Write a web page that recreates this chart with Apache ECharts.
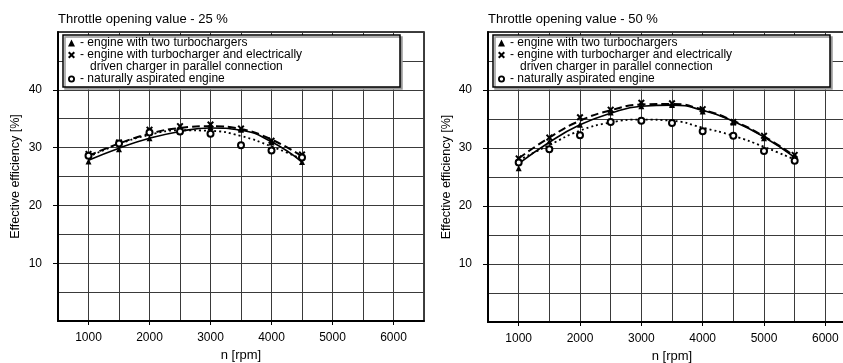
<!DOCTYPE html>
<html><head><meta charset="utf-8">
<script src="https://cdn.jsdelivr.net/npm/echarts@6/dist/echarts.min.js"></script>
<style>html,body{margin:0;padding:0;background:#fff}#c{width:843px;height:363px}</style>
</head><body><div id="c"></div>
<script>
// ---- data ----
const chartTitles = ['Throttle opening value - 25 %', 'Throttle opening value - 50 %'];
const seriesNames = ['engine with two turbochargers',
  'engine with turbocharger and electrically driven charger in parallel connection',
  'naturally aspirated engine'];
const legendLabels = ['- engine with two turbochargers',
  ' \n- engine with turbocharger and electrically\n   driven charger in parallel connection',
  ' \n- naturally aspirated engine\n '];
const xTickLabels = [1000, 2000, 3000, 4000, 5000, 6000];
const yTickLabels = [10, 20, 30, 40];
const xAxisName = 'n [rpm]';
const yAxisName = 'Effective efficiency [%]';

const rpm25 = [1000, 1500, 2000, 2500, 3000, 3500, 4000, 4500];
const twoTurbo25 = [27.6, 29.7, 31.6, 32.8, 33.5, 33.1, 30.9, 27.5];
const elecCharger25 = [28.9, 30.9, 33.1, 33.7, 34.0, 33.3, 31.2, 28.8];
const natAsp25 = [28.6, 30.7, 32.6, 32.8, 32.4, 30.4, 29.5, 28.3];
const twoTurbo25Fit = [27.8, 29.9, 31.6, 32.8, 33.4, 33.0, 31.0, 27.5];
const elecCharger25Fit = [28.6, 30.7, 32.4, 33.4, 33.7, 33.2, 31.4, 28.5];
const natAsp25Fit = [28.4, 30.6, 32.2, 33.0, 32.9, 32.0, 30.2, 28.0];

const rpm50 = [1000, 1500, 2000, 2500, 3000, 3500, 4000, 4500, 5000, 5500];
const twoTurbo50 = [26.5, 31.1, 34.0, 36.1, 37.2, 37.4, 36.3, 34.4, 31.7, 28.5];
const elecCharger50 = [28.2, 31.8, 35.3, 36.6, 37.8, 37.7, 36.7, 34.5, 32.1, 28.8];
const natAsp50 = [27.5, 29.8, 32.2, 34.5, 34.7, 34.3, 32.9, 32.1, 29.5, 27.8];
const twoTurbo50Fit = [27.3, 31.0, 34.0, 36.0, 37.2, 37.4, 36.5, 34.6, 31.9, 28.4];
const elecCharger50Fit = [28.2, 31.8, 34.7, 36.5, 37.5, 37.6, 36.6, 34.7, 32.0, 28.6];
const natAsp50Fit = [27.9, 30.5, 33.0, 34.4, 34.9, 34.7, 33.5, 32.1, 30.2, 28.0];

// ---- styles ----
const xPath = 'path://M0,2L2,0L5,3L8,0L10,2L7,5L10,8L8,10L5,7L2,10L0,8L3,5Z';
const ringPath = 'path://M0,5A5,5 0 1,0 10,5A5,5 0 1,0 0,5Z M2.6,5A2.4,2.4 0 1,1 7.4,5A2.4,2.4 0 1,1 2.6,5Z';
const markerDefs = [
  {symbol: 'triangle', size: 6},
  {symbol: xPath, size: 7},
  {symbol: 'emptyCircle', size: 6}
];
const lineTypes = [
  {type: 'solid', width: 1.6},
  {type: [8, 4], width: 2},
  {type: [2, 3], width: 1.8}
];
const grids = [
  {left: 58, top: 32, width: 366, height: 289, nameGapY: 36, legendLeft: 68, box: [63, 35, 337, 52]},
  {left: 488, top: 32, width: 368, height: 290, nameGapY: 35, legendLeft: 498, box: [493, 35, 337, 52]}
];
const datasets = [
  {rpm: rpm25, pts: [twoTurbo25, elecCharger25, natAsp25], fit: [twoTurbo25Fit, elecCharger25Fit, natAsp25Fit]},
  {rpm: rpm50, pts: [twoTurbo50, elecCharger50, natAsp50], fit: [twoTurbo50Fit, elecCharger50Fit, natAsp50Fit]}
];

const zip = (xs, ys) => xs.map((x, i) => [x, ys[i]]);
const FONT = 'Liberation Sans';

const option = {
  animation: false,
  backgroundColor: '#fff',
  textStyle: {fontFamily: FONT, color: '#000'},
  title: [], grid: [], xAxis: [], yAxis: [], legend: [], series: [], graphic: []
};

grids.forEach((g, i) => {
  option.title.push({
    text: chartTitles[i], left: g.left, top: 13, padding: 0,
    textStyle: {fontFamily: FONT, fontSize: 13, fontWeight: 'normal', color: '#000'}
  });
  option.grid.push({
    left: g.left, top: g.top, width: g.width, height: g.height,
    show: true, borderColor: '#000', borderWidth: 1.5, backgroundColor: 'transparent',
    outerBoundsMode: 'none', containLabel: false
  });
  // grid-line axes (series attached)
  option.xAxis.push({
    type: 'value', gridIndex: i, min: 500, max: 6500, interval: 500,
    axisLine: {show: false}, axisTick: {show: false}, axisLabel: {show: false},
    splitLine: {show: true, lineStyle: {color: '#3a3a3a', width: 1}}
  });
  option.yAxis.push({
    type: 'value', gridIndex: i, min: 0, max: 50, interval: 5,
    axisLine: {show: false}, axisTick: {show: false}, axisLabel: {show: false},
    splitLine: {show: true, lineStyle: {color: '#3a3a3a', width: 1}}
  });
  // label axes
  option.xAxis.push({
    type: 'value', gridIndex: i, min: 500, max: 6500, position: 'bottom',
    axisLine: {show: true, onZero: false, lineStyle: {color: '#000', width: 2}},
    axisTick: {show: true, customValues: xTickLabels, length: 4, lineStyle: {color: '#000', width: 1}},
    axisLabel: {customValues: xTickLabels, fontSize: 12, color: '#000', margin: 11, fontFamily: FONT,
      formatter: (v) => String(v)},
    splitLine: {show: false},
    name: xAxisName, nameLocation: 'middle', nameGap: 27,
    nameTextStyle: {fontSize: 13, color: '#000', fontFamily: FONT}
  });
  option.yAxis.push({
    type: 'value', gridIndex: i, min: 0, max: 50, position: 'left',
    axisLine: {show: true, onZero: false, lineStyle: {color: '#000', width: 2}},
    axisTick: {show: true, customValues: yTickLabels, length: 5, lineStyle: {color: '#000', width: 1}},
    axisLabel: {customValues: yTickLabels, fontSize: 12, color: '#000', margin: 16, fontFamily: FONT,
      formatter: (v) => String(v)},
    splitLine: {show: false},
    name: yAxisName, nameLocation: 'middle', nameGap: g.nameGapY,
    nameTextStyle: {fontSize: 12.5, color: '#000', fontFamily: FONT}
  });

  const d = datasets[i];
  seriesNames.forEach((name, k) => {
    option.series.push({
      type: 'line', name, xAxisIndex: 2 * i, yAxisIndex: 2 * i,
      data: zip(d.rpm, d.fit[k]), smooth: 0.5, symbol: 'none', silent: true, z: 3,
      lineStyle: {color: '#000', width: lineTypes[k].width, type: lineTypes[k].type, cap: 'butt'},
      itemStyle: {color: '#000'}
    });
  });
  seriesNames.forEach((name, k) => {
    option.series.push({
      type: 'scatter', name, xAxisIndex: 2 * i, yAxisIndex: 2 * i,
      data: zip(d.rpm, d.pts[k]), symbol: markerDefs[k].symbol, symbolSize: markerDefs[k].size, z: 4,
      itemStyle: {color: '#000', borderColor: '#000', borderWidth: k === 2 ? 1.6 : 0, opacity: 1}
    });
  });

  option.graphic.push({
    type: 'rect', z: 5,
    shape: {x: g.box[0], y: g.box[1], width: g.box[2], height: g.box[3]},
    style: {fill: '#fff', stroke: '#000', lineWidth: 1.5, shadowColor: '#999', shadowOffsetX: 2, shadowOffsetY: 2, shadowBlur: 0}
  });
  option.legend.push({
    orient: 'vertical', left: g.legendLeft, top: 37, padding: 0, itemGap: -12,
    itemWidth: 7, itemHeight: 7, selectedMode: false, z: 6,
    textStyle: {fontSize: 12, lineHeight: 12, color: '#000', fontFamily: FONT},
    formatter: (name) => legendLabels[seriesNames.indexOf(name)],
    data: [
      {name: seriesNames[0], icon: 'triangle', itemStyle: {color: '#000', borderWidth: 0}},
      {name: seriesNames[1], icon: xPath, itemStyle: {color: '#000', borderWidth: 0}},
      {name: seriesNames[2], icon: ringPath, itemStyle: {color: '#000', borderWidth: 0}}
    ]
  });
});

const chart = echarts.init(document.getElementById('c'), null, {renderer: 'canvas'});
chart.setOption(option);
</script>
</body></html>
